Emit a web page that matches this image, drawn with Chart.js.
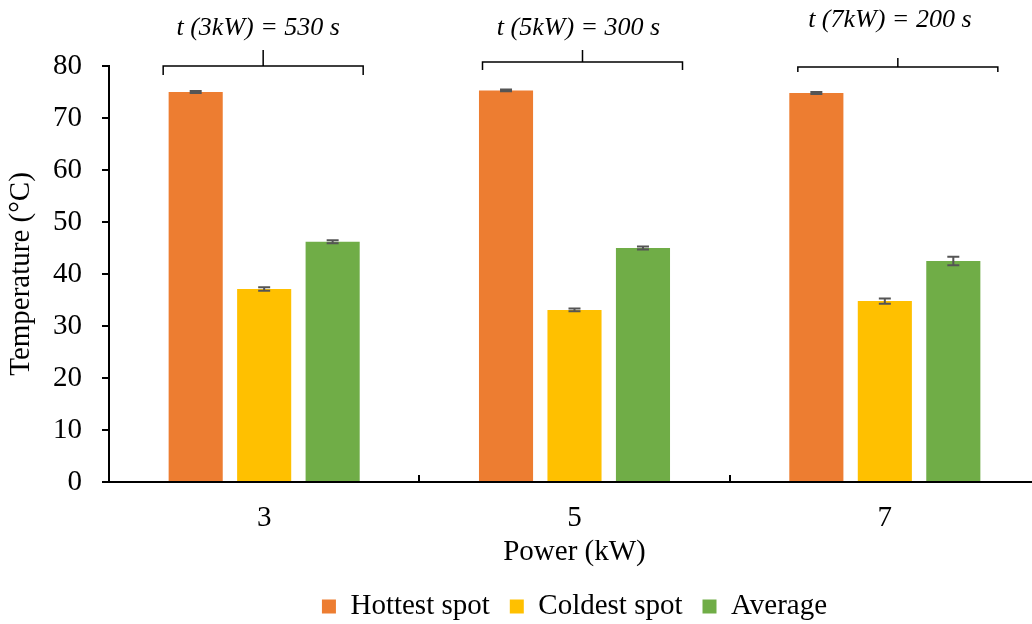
<!DOCTYPE html>
<html>
<head>
<meta charset="utf-8">
<script src="https://cdn.jsdelivr.net/npm/chart.js@4.4.0/dist/chart.umd.min.js"></script>
<style>
  html, body { margin: 0; padding: 0; background: #ffffff; overflow: hidden; }
  #wrap { position: relative; width: 1040px; height: 624px; }
</style>
</head>
<body>
<div id="wrap"><canvas id="chart"></canvas></div>
<script>
// Heating power levels (kW)
const powers = ['3', '5', '7'];

// Temperatures (°C) per power level
const hottest = [75.0, 75.3, 74.8];
const coldest = [37.1, 33.1, 34.8];
const average = [46.2, 45.0, 42.5];

// Error bar half-lengths (°C)
const hottestErr = [0.2, 0.17, 0.2];
const coldestErr = [0.33, 0.25, 0.5];
const averageErr = [0.3, 0.3, 0.8];

// Heating time per power level (s)
const heatTimes = [530, 300, 200];

// Y axis ticks
const yMin = 0;
const yMax = 80;
const yStep = 10;

// Brace / label placement around each group (px, relative to the category centre)
const braceShift = [-1, 8, 13];
const braceLineY = [66, 62, 67];
const braceEndY = [75, 70, 72];
const braceTipY = [50, 50, 58];
const labelShift = [-6, 4, 5];
const labelY = [28, 28, 20];

const FONT = "'Liberation Serif', 'Times New Roman', serif";
const FONT_SIZE = 29;

const errorBars = {
  id: 'errorBars',
  afterDatasetsDraw(chart) {
    const ctx = chart.ctx;
    const y = chart.scales.y;
    ctx.save();
    ctx.strokeStyle = '#555555';
    ctx.lineWidth = 2;
    chart.data.datasets.forEach((ds, di) => {
      const meta = chart.getDatasetMeta(di);
      meta.data.forEach((bar, i) => {
        const v = ds.data[i];
        const e = ds.errors[i];
        const top = y.getPixelForValue(v + e);
        const bot = y.getPixelForValue(v - e);
        const cap = 6;
        ctx.beginPath();
        ctx.moveTo(bar.x, top); ctx.lineTo(bar.x, bot);
        ctx.moveTo(bar.x - cap, top); ctx.lineTo(bar.x + cap, top);
        ctx.moveTo(bar.x - cap, bot); ctx.lineTo(bar.x + cap, bot);
        ctx.stroke();
      });
    });
    ctx.restore();
  }
};

const categoryDividers = {
  id: 'categoryDividers',
  afterDraw(chart) {
    const ctx = chart.ctx;
    const x = chart.scales.x;
    const bottom = chart.chartArea.bottom;
    ctx.save();
    ctx.strokeStyle = '#000';
    ctx.lineWidth = 2;
    for (let i = 0; i < powers.length - 1; i++) {
      const px = Math.round((x.getPixelForValue(i) + x.getPixelForValue(i + 1)) / 2);
      ctx.beginPath();
      ctx.moveTo(px, bottom);
      ctx.lineTo(px, bottom - 7);
      ctx.stroke();
    }
    ctx.restore();
  }
};

const timeBraces = {
  id: 'timeBraces',
  afterDraw(chart) {
    const ctx = chart.ctx;
    const x = chart.scales.x;
    ctx.save();
    ctx.strokeStyle = '#000';
    ctx.lineWidth = 1.5;
    ctx.fillStyle = '#000';
    ctx.font = 'italic 26px ' + FONT;
    ctx.textAlign = 'center';
    ctx.textBaseline = 'middle';
    powers.forEach((p, i) => {
      const cx = x.getPixelForValue(i) + braceShift[i];
      const half = 100;
      ctx.beginPath();
      ctx.moveTo(cx - half, braceEndY[i]);
      ctx.lineTo(cx - half, braceLineY[i]);
      ctx.lineTo(cx + half, braceLineY[i]);
      ctx.lineTo(cx + half, braceEndY[i]);
      ctx.moveTo(cx, braceLineY[i]);
      ctx.lineTo(cx, braceTipY[i]);
      ctx.stroke();
      const lx = x.getPixelForValue(i) + labelShift[i];
      ctx.fillText('t (' + p + 'kW) = ' + heatTimes[i] + ' s', lx, labelY[i]);
    });
    ctx.restore();
  }
};

new Chart(document.getElementById('chart'), {
  type: 'bar',
  data: {
    labels: powers,
    datasets: [
      { label: 'Hottest spot', data: hottest, errors: hottestErr, backgroundColor: '#ED7D31', borderWidth: 0 },
      { label: 'Coldest spot', data: coldest, errors: coldestErr, backgroundColor: '#FFC000', borderWidth: 0 },
      { label: 'Average', data: average, errors: averageErr, backgroundColor: '#70AD47', borderWidth: 0 }
    ]
  },
  options: {
    responsive: true,
    maintainAspectRatio: false,
    animation: false,
    datasets: { bar: { barPercentage: 0.79, categoryPercentage: 0.662 } },
    layout: { padding: { left: 0, right: 0, top: 66, bottom: -7 } },
    plugins: {
      tooltip: { enabled: false },
      legend: {
        position: 'bottom',
        fullSize: false,
        labels: {
          color: '#000',
          font: { family: FONT, size: FONT_SIZE },
          boxWidth: 14,
          boxHeight: 14,
          padding: 20
        }
      }
    },
    scales: {
      x: {
        offset: true,
        grid: { display: false, drawTicks: false, drawOnChartArea: false },
        border: { display: true, color: '#000', width: 2 },
        ticks: { color: '#000', font: { family: FONT, size: FONT_SIZE }, padding: 19 },
        title: { display: true, text: 'Power (kW)', color: '#000', font: { family: FONT, size: FONT_SIZE }, padding: { top: 0, bottom: 2 } },
        afterFit(scale) { scale.height = 90; }
      },
      y: {
        min: yMin,
        max: yMax,
        ticks: { stepSize: yStep, color: '#000', font: { family: FONT, size: FONT_SIZE }, padding: 20 },
        grid: { drawOnChartArea: false, drawTicks: true, tickLength: 7, color: '#000', lineWidth: 2 },
        border: { display: true, color: '#000', width: 2 },
        title: { display: true, text: 'Temperature (°C)', color: '#000', font: { family: FONT, size: FONT_SIZE }, padding: { top: 4, bottom: 0 } },
        afterFit(scale) { scale.width = 109; }
      }
    }
  },
  plugins: [errorBars, categoryDividers, timeBraces]
});
</script>
</body>
</html>
